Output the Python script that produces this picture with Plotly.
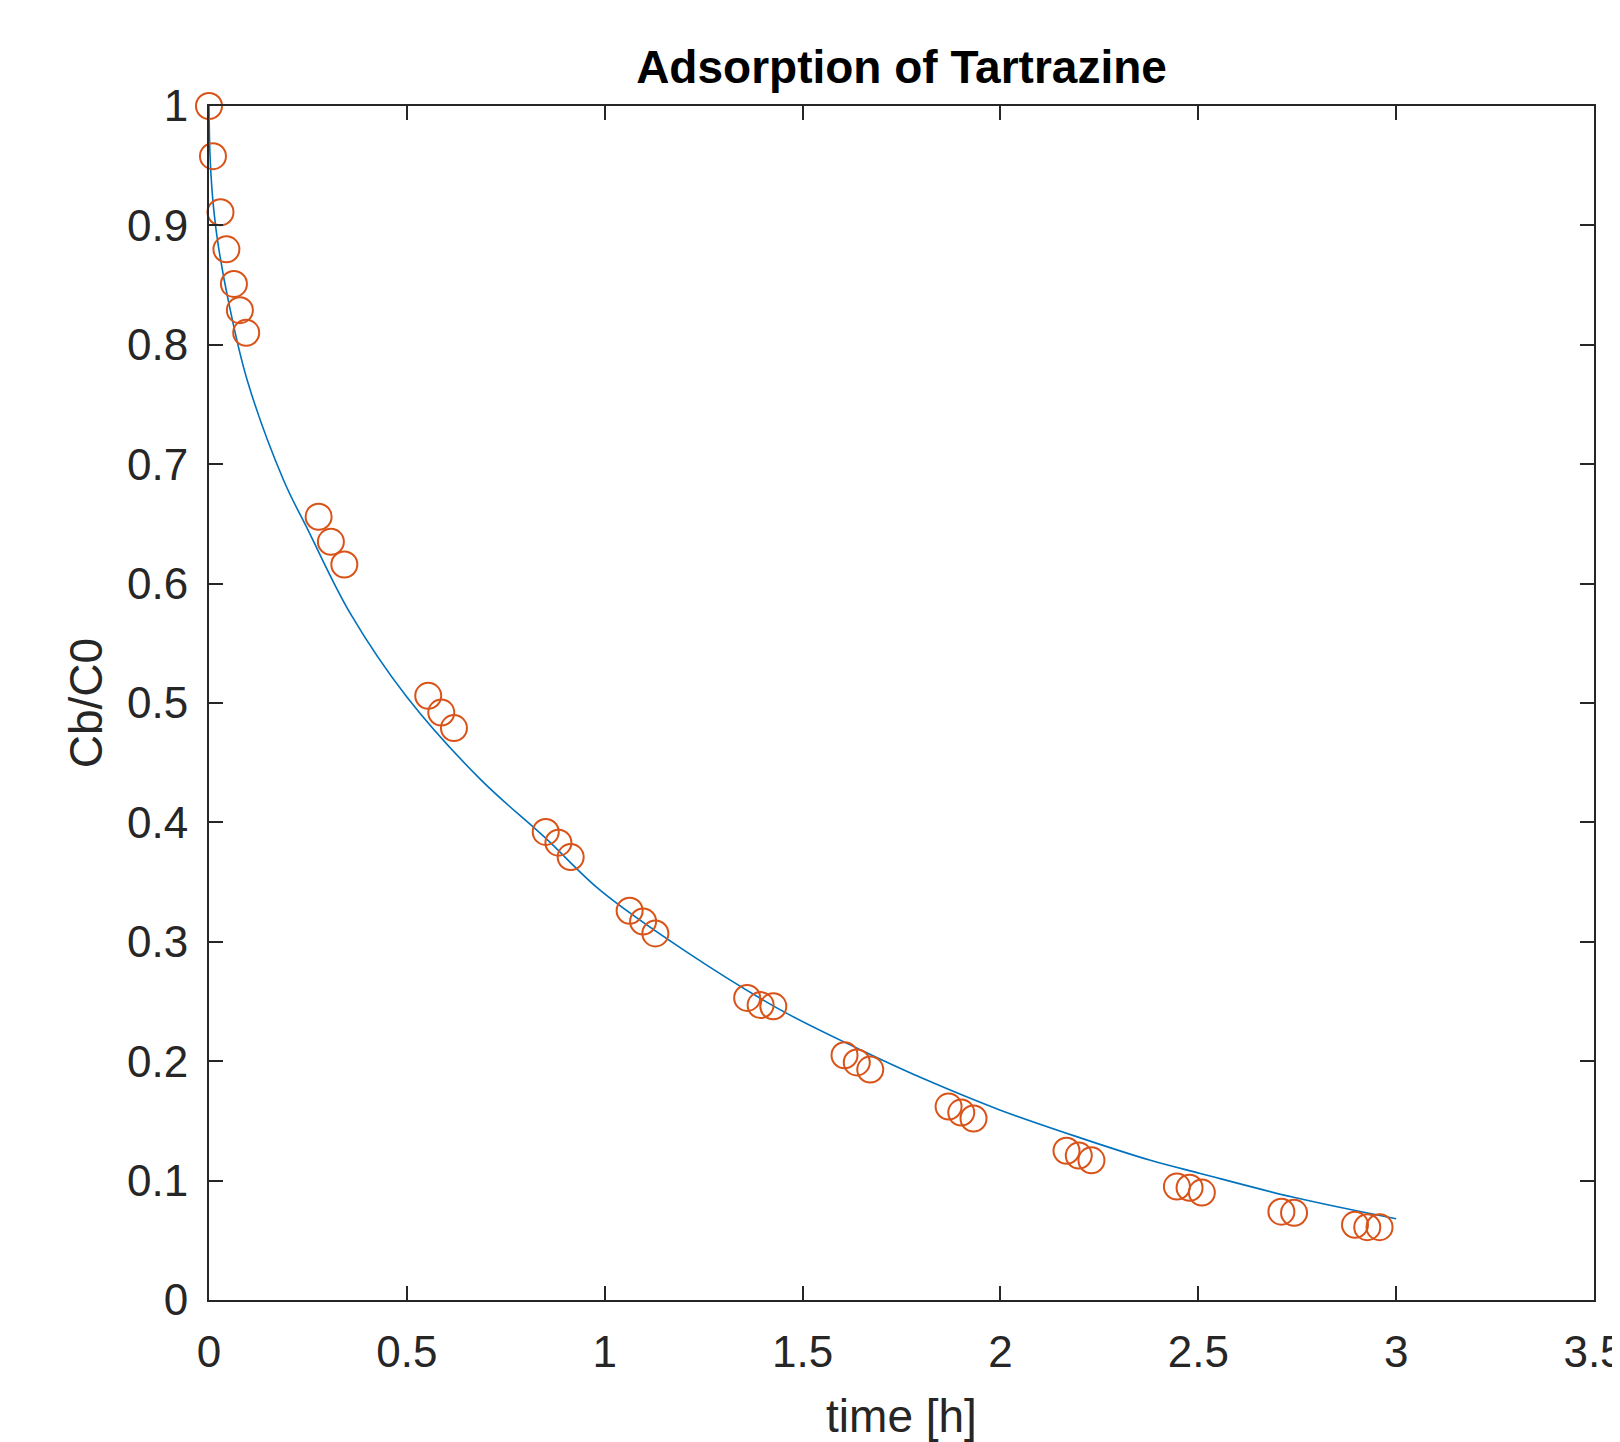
import plotly.graph_objects as go

# Measured data (time [h], Cb/C0)
t_data = [0.0, 0.010, 0.029, 0.044, 0.063, 0.078, 0.094,
          0.277, 0.308, 0.342,
          0.554, 0.587, 0.619,
          0.851, 0.883, 0.914,
          1.063, 1.097, 1.128,
          1.360, 1.394, 1.426,
          1.606, 1.637, 1.671,
          1.869, 1.901, 1.932,
          2.167, 2.198, 2.230,
          2.446, 2.478, 2.509,
          2.710, 2.742,
          2.896, 2.927, 2.958]
c_data = [1.000, 0.958, 0.911, 0.880, 0.851, 0.829, 0.810,
          0.656, 0.635, 0.616,
          0.506, 0.492, 0.479,
          0.392, 0.383, 0.371,
          0.326, 0.317, 0.307,
          0.253, 0.247, 0.246,
          0.205, 0.199, 0.193,
          0.162, 0.157, 0.152,
          0.125, 0.121, 0.117,
          0.095, 0.094, 0.090,
          0.074, 0.073,
          0.063, 0.061, 0.061]

# Model curve
t_model = [0.0, 0.003, 0.012, 0.024, 0.05, 0.096, 0.188, 0.25, 0.357, 0.5,
           0.686, 0.85, 0.989, 1.2, 1.444, 1.65, 1.815, 2.0, 2.2, 2.379,
           2.505, 2.741, 3.0]
c_model = [1.0, 0.955, 0.913, 0.882, 0.835, 0.771, 0.687, 0.645, 0.575, 0.505,
           0.436, 0.387, 0.343, 0.293, 0.243, 0.209, 0.184, 0.159, 0.136, 0.117,
           0.106, 0.086, 0.068]

title_text = "Adsorption of Tartrazine"
x_title = "time [h]"
y_title = "Cb/C0"

FONT = "Liberation Sans, Arial, Helvetica, sans-serif"
AX = "#262626"

# page body has an 8px default margin: compensate so the figure fills 1620x1442
W, H = 1612, 1434

fig = go.Figure()
fig.add_trace(go.Scatter(x=t_model, y=c_model, mode="lines",
                         line=dict(color="#0072BD", width=1.6, shape="spline"),
                         showlegend=False))
fig.add_trace(go.Scatter(x=t_data, y=c_data, mode="markers",
                         marker=dict(symbol="circle-open", size=26,
                                     color="#D95319", line=dict(width=2, color="#D95319")),
                         cliponaxis=False, showlegend=False))

axis_common = dict(showline=True, linecolor=AX, linewidth=2, mirror="ticks",
                   ticks="inside", ticklen=14, tickwidth=2, tickcolor=AX,
                   showgrid=False, zeroline=False, ticklabeloverflow="allow",
                   tickfont=dict(family=FONT, size=44, color=AX))

fig.update_layout(
    width=W, height=H,
    paper_bgcolor="white", plot_bgcolor="white",
    margin=dict(l=201, r=26, t=98, b=142, autoexpand=False),
    title=dict(text="<b>" + title_text + "</b>", x=(201 + (W - 26)) / 2 / W, xanchor="center",
               y=1 - 59 / H, yanchor="middle", yref="container",
               font=dict(family=FONT, size=46, color="black")),
    xaxis=dict(range=[0, 3.5], tickvals=[0, 0.5, 1, 1.5, 2, 2.5, 3, 3.5],
               ticktext=["0", "0.5", "1", "1.5", "2", "2.5", "3", "3.5"],
               ticklabelstandoff=12,
               title=dict(text=x_title, font=dict(family=FONT, size=46, color=AX), standoff=30),
               **axis_common),
    yaxis=dict(range=[0, 1], tickvals=[0, 0.1, 0.2, 0.3, 0.4, 0.5, 0.6, 0.7, 0.8, 0.9, 1],
               ticktext=["0", "0.1", "0.2", "0.3", "0.4", "0.5", "0.6", "0.7", "0.8", "0.9", "1"],
               ticklabelstandoff=10,
               title=dict(text=y_title, font=dict(family=FONT, size=46, color=AX), standoff=10),
               **axis_common),
)

fig.write_html("out.html")
